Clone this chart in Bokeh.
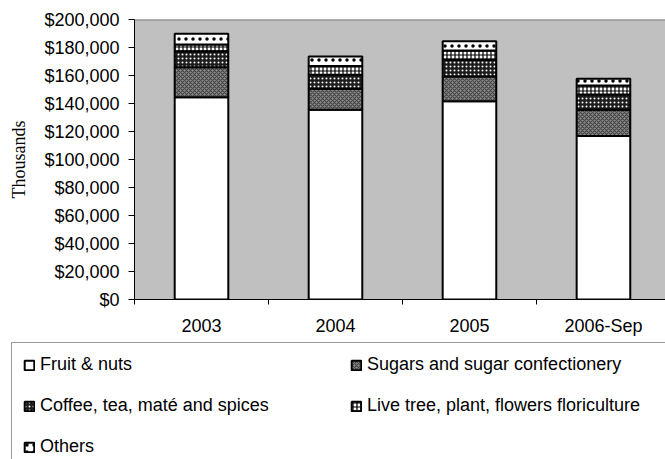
from bokeh.plotting import figure
from bokeh.layouts import column
from bokeh.models import (ColumnDataSource, Range1d, FixedTicker, NumeralTickFormatter,
                          Legend, LegendItem, Span)
from bokeh.embed import file_html
from bokeh.resources import INLINE

# ---- data (values in $ thousands) ----
categories = ["2003", "2004", "2005", "2006-Sep"]
fruit_nuts = [144500, 135500, 141600, 116700]
sugars = [21400, 15000, 17700, 18800]
coffee_tea = [11500, 10000, 11900, 10900]
live_tree = [4700, 6200, 6700, 6500]
others = [7700, 6900, 6600, 4700]
series_names = ["Fruit & nuts", "Sugars and sugar confectionery",
                "Coffee, tea, maté and spices", "Live tree, plant, flowers floriculture",
                "Others"]
y_ticks = [0, 20000, 40000, 60000, 80000, 100000, 120000, 140000, 160000, 180000, 200000]

keys = ["fruit", "sugars", "coffee", "live", "others"]
source = ColumnDataSource(dict(
    x=[i + 0.5 for i in range(len(categories))],
    fruit=fruit_nuts, sugars=sugars, coffee=coffee_tea, live=live_tree, others=others,
))

FONT = "Liberation Sans"

fills = ["white", "#8a8a8a", "#1c1c1c", "white", "white"]
hatches = [" ", "diagonal_cross", "dot", "cross", "dot"]
hatch_colors = ["black", "#454545", "white", "black", "black"]
hatch_scales = [6, 4, 4, 4, 7]

p = figure(width=665, height=340, output_backend="svg", toolbar_location=None,
           x_range=Range1d(0, 3.963), y_range=Range1d(0, 200000),
           min_border_left=134, min_border_right=0, min_border_top=19, min_border_bottom=41)
p.frame_align = False
p.background_fill_color = "#C0C0C0"
p.border_fill_color = "white"
p.outline_line_color = None
p.xgrid.visible = False
p.ygrid.visible = False

p.vbar_stack(keys, x="x", width=0.4, source=source,
             fill_color=fills, line_color="black", line_width=2,
             hatch_pattern=hatches, hatch_color=hatch_colors,
             hatch_scale=hatch_scales, hatch_weight=1.2)

# top border of plot area
p.add_layout(Span(location=200000, dimension="width", line_color="#808080", line_width=2))

# x axis: labels centred on categories, ticks at category boundaries
xt = FixedTicker(ticks=[i + 0.5 for i in range(len(categories))],
                 minor_ticks=list(range(len(categories) + 1)))
p.xaxis.ticker = xt
p.xaxis.major_label_overrides = {i + 0.5: c for i, c in enumerate(categories)}
p.xaxis.major_tick_out = 0
p.xaxis.major_tick_in = 0
p.xaxis.minor_tick_out = 5
p.xaxis.minor_tick_in = 0
p.xaxis.minor_tick_line_color = "black"
p.xaxis.axis_line_color = "black"
p.xaxis.major_label_text_font = FONT
p.xaxis.major_label_text_font_size = "18px"
p.xaxis.major_label_text_color = "black"
p.xaxis.major_label_standoff = 11

p.yaxis.ticker = FixedTicker(ticks=y_ticks)
p.yaxis.formatter = NumeralTickFormatter(format="$0,0")
p.yaxis.minor_tick_line_color = None
p.yaxis.major_tick_out = 6
p.yaxis.major_tick_in = 0
p.yaxis.major_tick_line_color = "black"
p.yaxis.axis_line_color = "black"
p.yaxis.major_label_text_font = FONT
p.yaxis.major_label_text_font_size = "18px"
p.yaxis.major_label_text_color = "black"
p.yaxis.major_label_standoff = 9
p.yaxis.axis_label = "Thousands"
p.yaxis.axis_label_text_font = "Liberation Serif"
p.yaxis.axis_label_text_font_style = "normal"
p.yaxis.axis_label_text_font_size = "18px"
p.yaxis.axis_label_text_color = "black"
p.yaxis.axis_label_standoff = 12

# legend panel below the chart; its swatch renderers share the bar styles
lg = figure(width=665, height=119, output_backend="svg", toolbar_location=None,
            x_axis_location=None, y_axis_location=None,
            x_range=Range1d(0, 1), y_range=Range1d(0, 1),
            min_border_left=0, min_border_right=0, min_border_top=0, min_border_bottom=0)
lg.frame_align = False
lg.outline_line_color = None
lg.xgrid.visible = False
lg.ygrid.visible = False
items = []
for key, name, fc, hp, hc, hs in zip(keys, series_names, fills, hatches, hatch_colors, hatch_scales):
    r = lg.vbar(x="x", top=key, width=0.4, source=source, fill_color=fc,
                line_color="black", line_width=2, hatch_pattern=hp, hatch_color=hc,
                hatch_scale=hs, hatch_weight=1.2, visible=False)
    items.append(LegendItem(label=name, renderers=[r]))

legend = Legend(items=items, orientation="horizontal", ncols=2,
                location=(11, -10),
                glyph_width=12, glyph_height=12, label_standoff=5,
                label_width=290, label_height=21, spacing=20, padding=11,
                label_text_font=FONT, label_text_font_size="18px", label_text_color="black",
                border_line_color="#333333", border_line_width=1,
                background_fill_color="white", background_fill_alpha=1.0,
                margin=0)
lg.add_layout(legend, "center")

layout = column(p, lg, spacing=0)
open("out.html", "w").write(file_html(layout, INLINE))
